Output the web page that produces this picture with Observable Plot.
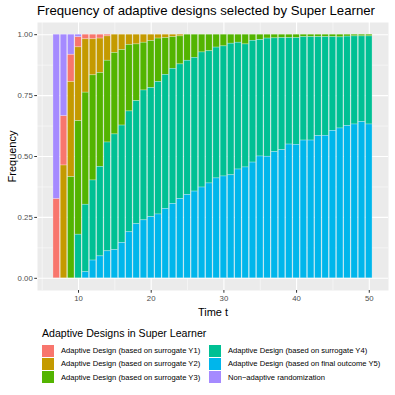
<!DOCTYPE html>
<html><head><meta charset="utf-8">
<script src="https://cdn.jsdelivr.net/npm/d3@7"></script>
<script src="https://cdn.jsdelivr.net/npm/@observablehq/plot@0.6"></script>
<style>
body{margin:0;background:#fff;font-family:"Liberation Sans",Arial,sans-serif;}
#wrap{position:relative;width:395px;height:395px;overflow:hidden;}
#title{position:absolute;left:37px;top:3px;font-size:13.2px;color:#000;white-space:nowrap;}
#chart{position:absolute;left:0;top:0;}
#legend{position:absolute;left:42px;top:327px;}
#ltitle{font-size:10.6px;color:#000;margin-bottom:5px;white-space:nowrap;}
#litems{display:grid;grid-template-columns:167px 170px;grid-auto-flow:column;grid-template-rows:13.3px 13.3px 13.3px;}
.li{display:flex;align-items:center;font-size:7.6px;color:#000;white-space:nowrap;}
.key{width:12px;height:12px;margin-right:7px;flex:none;}
</style></head><body>
<div id="wrap">
<div id="chart"></div>
<div id="title">Frequency of adaptive designs selected by Super Learner</div>
<div id="legend"><div id="ltitle">Adaptive Designs in Super Learner</div><div id="litems"></div></div>
</div>
<script>
const times = [7,8,9,10,11,12,13,14,15,16,17,18,19,20,21,22,23,24,25,26,27,28,29,30,31,32,33,34,35,36,37,38,39,40,41,42,43,44,45,46,47,48,49,50];
const categories = [
  "Adaptive Design (based on surrogate Y1)",
  "Adaptive Design (based on surrogate Y2)",
  "Adaptive Design (based on surrogate Y3)",
  "Adaptive Design (based on surrogate Y4)",
  "Adaptive Design (based on final outcome Y5)",
  "Non\u2212adaptive randomization"
];
const colors = ["#F8766D","#C49A00","#53B400","#00C094","#00B6EB","#A58AFF"];
const y1 = [0.326,0.203,0.112,0.042,0.019,0.019,0.016,0.007,0,0,0,0,0,0,0,0,0,0,0,0,0,0,0,0,0,0,0,0,0,0,0,0,0,0,0,0,0,0,0,0,0,0,0,0];
const y2 = [0,0.463,0.39,0.303,0.219,0.148,0.141,0.1,0.075,0.063,0.042,0.04,0.033,0.026,0.016,0.014,0.01,0.007,0,0,0,0,0,0,0,0,0,0,0,0,0,0,0,0,0,0,0,0,0,0,0,0,0,0];
const y3 = [0,0,0.415,0.466,0.46,0.432,0.385,0.336,0.334,0.31,0.273,0.233,0.196,0.193,0.178,0.151,0.13,0.115,0.107,0.095,0.073,0.068,0.053,0.048,0.037,0.033,0.04,0.025,0.022,0.016,0.015,0.014,0.014,0.014,0.01,0.01,0.01,0.01,0.01,0.011,0.008,0.007,0.007,0.007];
const y4 = [0,0,0,0.179,0.277,0.329,0.367,0.447,0.474,0.482,0.496,0.505,0.533,0.53,0.544,0.551,0.555,0.553,0.551,0.549,0.555,0.542,0.537,0.534,0.54,0.521,0.505,0.5,0.478,0.485,0.467,0.46,0.437,0.438,0.425,0.425,0.407,0.405,0.385,0.374,0.367,0.362,0.352,0.362];
const y5 = [0,0,0,0,0.025,0.073,0.09,0.111,0.116,0.145,0.189,0.222,0.238,0.251,0.262,0.285,0.305,0.325,0.342,0.356,0.373,0.389,0.41,0.418,0.423,0.447,0.455,0.475,0.5,0.499,0.518,0.526,0.549,0.548,0.566,0.566,0.584,0.585,0.605,0.615,0.625,0.632,0.641,0.632];
const nonAdaptive = [0.674,0.334,0.082,0.01,0,0,0,0,0,0,0,0,0,0,0,0,0,0,0,0,0,0,0,0,0,0,0,0,0,0,0,0,0,0,0,0,0,0,0,0,0,0,0,0];
const yTicks = [0,0.25,0.5,0.75,1];
const xTicks = [10,20,30,40,50];

const series = [y1,y2,y3,y4,y5,nonAdaptive];
const rows = [];
series.forEach((vals,ci)=>vals.forEach((v,i)=>{ if(v>0) rows.push({t:times[i], design:categories[ci], freq:v}); }));
const stackOrder = [categories[4],categories[3],categories[2],categories[1],categories[0],categories[5]];

const plot = Plot.plot({
  width:395, height:320,
  marginLeft:37, marginRight:7, marginTop:22, marginBottom:30,
  style:{fontFamily:"'Liberation Sans',Arial,sans-serif", background:"transparent"},
  x:{domain:[4.355,52.645]},
  y:{domain:[-0.05,1.05]},
  color:{domain:categories, range:colors},
  marks:[
    Plot.frame({fill:"#EBEBEB", stroke:null}),
    Plot.gridY([0.125,0.375,0.625,0.875],{stroke:"white", strokeOpacity:1, strokeWidth:0.5}),
    Plot.gridX([5,15,25,35,45],{stroke:"white", strokeOpacity:1, strokeWidth:0.5}),
    Plot.gridY(yTicks,{stroke:"white", strokeOpacity:1, strokeWidth:1.1}),
    Plot.gridX(xTicks,{stroke:"white", strokeOpacity:1, strokeWidth:1.1}),
    Plot.rectY(rows, Plot.stackY({
      x1:d=>d.t-0.45, x2:d=>d.t+0.45, y:"freq", z:"design", fill:"design",
      order:stackOrder, offset:"normalize",
      stroke:"white", strokeOpacity:0.45, strokeWidth:0.6
    })),
    Plot.axisY(yTicks,{tickFormat:d3.format(".2f"), tickSize:2.75, tickPadding:2, fontSize:7.8, color:"#4D4D4D", stroke:"#333", label:"Frequency", labelAnchor:"center", labelArrow:"none", labelOffset:29}),
    Plot.axisX(xTicks,{tickFormat:d=>String(d), tickSize:2.75, tickPadding:2, fontSize:7.8, color:"#4D4D4D", stroke:"#333", label:"Time t", labelAnchor:"center", labelArrow:"none", labelOffset:25})
  ]
});
document.getElementById("chart").appendChild(plot);
plot.querySelectorAll("[aria-label='x-axis label'] text, [aria-label='y-axis label'] text").forEach(t=>{t.style.fontSize="11px"; t.setAttribute("fill","#000");});

const li = document.getElementById("litems");
categories.forEach((c,i)=>{
  const d=document.createElement("div"); d.className="li";
  d.innerHTML=`<span class="key" style="background:${colors[i]}"></span><span>${c}</span>`;
  li.appendChild(d);
});
</script>
</body></html>
